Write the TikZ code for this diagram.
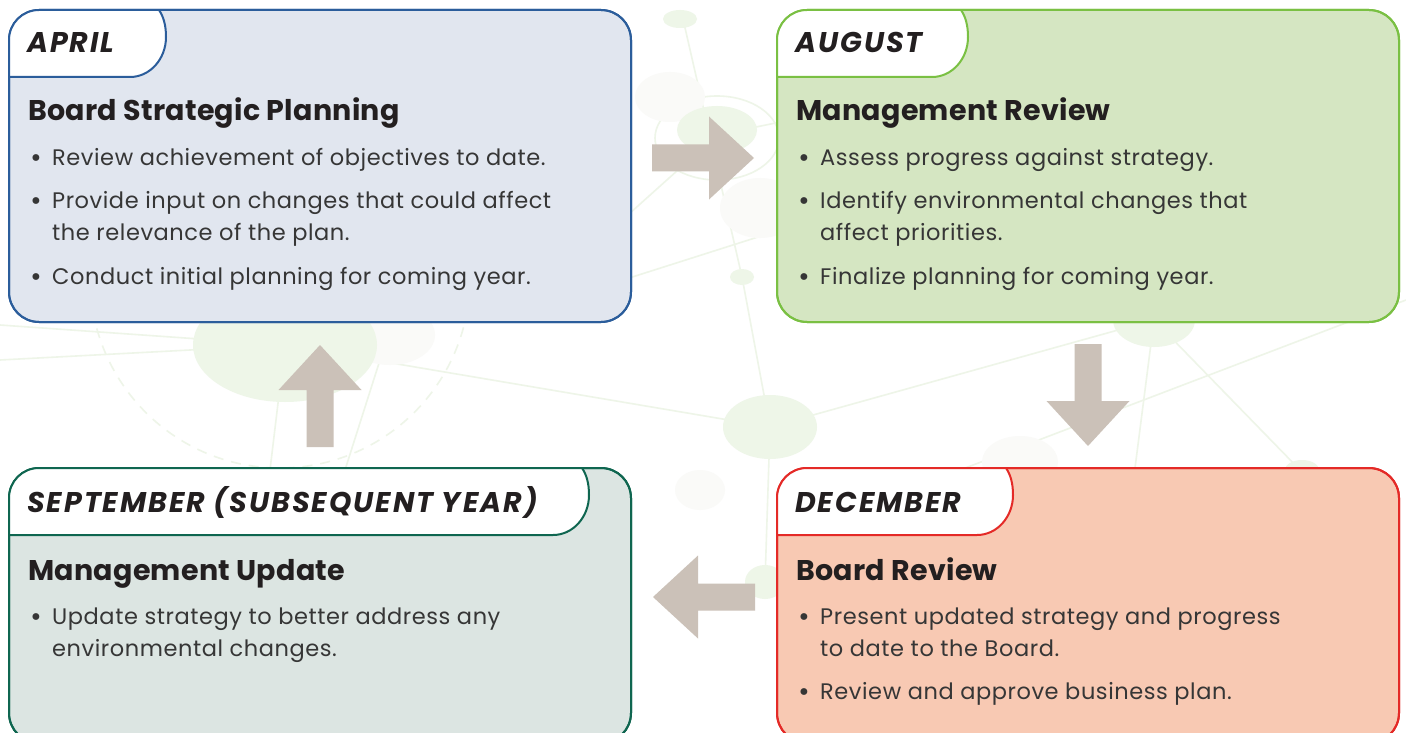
\documentclass[tikz,border=0pt]{standalone}
\usepackage{fontspec}
\setmainfont{Poppins}
\newfontfamily\tabfont{Poppins}[LetterSpace=7]
\newfontfamily\headfont{Poppins}[LetterSpace=1]
\newfontfamily\itemfont{Poppins}[LetterSpace=2.5]
\usetikzlibrary{calc}

\definecolor{aprline}{HTML}{2B5D9B}
\definecolor{aprfill}{HTML}{E1E6EF}
\definecolor{augline}{HTML}{7AC043}
\definecolor{augfill}{HTML}{D5E6C2}
\definecolor{decline}{HTML}{E42A27}
\definecolor{decfill}{HTML}{F8C9B3}
\definecolor{sepline}{HTML}{0F6650}
\definecolor{sepfill}{HTML}{DCE5E2}
\definecolor{arrowc}{HTML}{CBC1B8}
\definecolor{netfill}{HTML}{EEF6E8}
\definecolor{netstroke}{HTML}{EEF5E8}
\definecolor{netgray}{HTML}{FAFAF8}
\definecolor{ink}{HTML}{231F20}
\definecolor{body}{HTML}{363636}

% white tab in the top left corner of a box: box node, tab width, colour
\newcommand{\phasetab}[3]{%
  \begin{scope}
    \clip ([shift={(-5,-5)}]#1.north west) -- ([shift={(#2-7,-5)}]#1.north west)
      -- ([shift={(#2-7,0)}]#1.north west)
      .. controls ([shift={(#2-3,6)}]#1.north west) and ([shift={(#2,14)}]#1.north west) .. ([shift={(#2,27)}]#1.north west)
      .. controls ([shift={(#2,49)}]#1.north west) and ([shift={(#2-16,67)}]#1.north west) .. ([shift={(#2-36,67)}]#1.north west)
      -- ([shift={(-5,67)}]#1.north west) -- cycle;
    \fill[white, rounded corners=30pt] (#1.north west) rectangle (#1.south east);
  \end{scope}
  \draw[#3, line width=2pt] ([shift={(#2-7,0)}]#1.north west)
      .. controls ([shift={(#2-3,6)}]#1.north west) and ([shift={(#2,14)}]#1.north west) .. ([shift={(#2,27)}]#1.north west)
      .. controls ([shift={(#2,49)}]#1.north west) and ([shift={(#2-16,67)}]#1.north west) .. ([shift={(#2-36,67)}]#1.north west)
      -- ([shift={(0,67)}]#1.north west);
  \draw[#3, line width=2pt, rounded corners=30pt] (#1.north west) rectangle (#1.south east);
}

\tikzset{
  phasebox/.style 2 args={draw=#1, fill=#2, line width=2pt, rounded corners=30pt,
    anchor=north west, outer sep=0pt, inner sep=0pt},
  tabtext/.style={font=\tabfont\fontsize{28.5}{28.5}\selectfont\bfseries\itshape, text=ink,
    anchor=base west, inner sep=0pt},
  headtext/.style={font=\headfont\fontsize{28.5}{28.5}\selectfont\bfseries, text=ink,
    anchor=base west, inner sep=0pt},
  itemtext/.style={font=\itemfont\fontsize{22.5}{22.5}\selectfont, text=body,
    anchor=base west, inner sep=0pt},
  netln/.style={draw=netstroke, line width=1.6pt},
  blockarr/.pic={\fill[arrowc] (0,0) -- (-45,41.5) -- (-45,13.5) -- (-102,13.5)
    -- (-102,-13.5) -- (-45,-13.5) -- (-45,-41.5) -- cycle;}
}

\begin{document}
\begin{tikzpicture}[x=1pt,y=-1pt]
\clip (0,0) rectangle (1406,733);
\fill[white] (0,0) rectangle (1406,733);

% faint network in the background
\draw[netln] (683,19) -- (742,277) -- (770,427) -- (765,582);
\draw[netln] (0,325) -- (285,345) -- (770,427) -- (1154,320) -- (1135,468);
\draw[netln] (0,360) -- (285,345) -- (270,470);
\draw[netln] (380,360) -- (345,470);
\draw[netln] (1154,320) -- (1300,470);
\draw[netln] (600,240) -- (717,135) -- (800,118);
\draw[netln] (560,300) -- (780,230);
\draw[netln] (960,470) -- (1406,300);
\draw[netln, dash pattern=on 10pt off 8pt] (280,278) circle[radius=190pt];
\draw[netln] (717,138) ellipse[x radius=62pt, y radius=42pt];
\fill[netgray] (670,97) ellipse[x radius=35pt, y radius=25pt];
\fill[netgray] (760,208) ellipse[x radius=40pt, y radius=30pt];
\fill[netgray] (1020,462) ellipse[x radius=38pt, y radius=26pt];
\fill[netgray] (700,490) ellipse[x radius=25pt, y radius=20pt];
\fill[netgray] (390,335) ellipse[x radius=45pt, y radius=30pt];
\fill[netfill] (680,19) ellipse[x radius=17pt, y radius=9pt];
\fill[netfill] (717,130) ellipse[x radius=40pt, y radius=24pt];
\fill[netfill] (742,277) ellipse[x radius=12pt, y radius=8pt];
\fill[netfill] (770,427) ellipse[x radius=47pt, y radius=32pt];
\fill[netfill] (765,582) ellipse[x radius=20pt, y radius=17pt];
\fill[netfill] (285,345) ellipse[x radius=92pt, y radius=57pt];
\fill[netfill] (1154,320) ellipse[x radius=41pt, y radius=27pt];
\fill[netfill] (1302,470) ellipse[x radius=17pt, y radius=10pt];

% the four boxes
\node[phasebox={aprline}{aprfill}, minimum width=622pt, minimum height=312pt] (apr) at (9,10) {};
\node[phasebox={augline}{augfill}, minimum width=622pt, minimum height=312pt] (aug) at (777,10) {};
\node[phasebox={decline}{decfill}, minimum width=622pt, minimum height=275pt] (dec) at (777,468) {};
\node[phasebox={sepline}{sepfill}, minimum width=622pt, minimum height=275pt] (sep) at (9,468) {};
\phasetab{apr}{157}{aprline}
\phasetab{aug}{191}{augline}
\phasetab{dec}{236}{decline}
\phasetab{sep}{580}{sepline}

% April
\node[tabtext] (apr-tab) at ([shift={(18,43)}]apr.north west) {APRIL};
\node[headtext] (apr-head) at ([shift={(19,111)}]apr.north west) {Board Strategic Planning};
\foreach \yy/\bul/\txt [count=\i] in {155/\textbullet/{Review achievement of objectives to date.},
    198/\textbullet/{Provide input on changes that could affect},
    230//{the relevance of the plan.},
    274/\textbullet/{Conduct initial planning for coming year.}}
  \node[itemtext] (apr-\i) at ([shift={(43,\yy)}]apr.north west) {\llap{\textbf{\bul}\hspace{10pt}}\txt};

% August
\node[tabtext] (aug-tab) at ([shift={(18,43)}]aug.north west) {AUGUST};
\node[headtext] (aug-head) at ([shift={(19,111)}]aug.north west) {Management Review};
\foreach \yy/\bul/\txt [count=\i] in {155/\textbullet/{Assess progress against strategy.},
    198/\textbullet/{Identify environmental changes that},
    230//{affect priorities.},
    274/\textbullet/{Finalize planning for coming year.}}
  \node[itemtext] (aug-\i) at ([shift={(43,\yy)}]aug.north west) {\llap{\textbf{\bul}\hspace{10pt}}\txt};

% December
\node[tabtext] (dec-tab) at ([shift={(18,44)}]dec.north west) {DECEMBER};
\node[headtext] (dec-head) at ([shift={(19,112)}]dec.north west) {Board Review};
\foreach \yy/\bul/\txt [count=\i] in {156/\textbullet/{Present updated strategy and progress},
    188//{to date to the Board.},
    231/\textbullet/{Review and approve business plan.}}
  \node[itemtext] (dec-\i) at ([shift={(43,\yy)}]dec.north west) {\llap{\textbf{\bul}\hspace{10pt}}\txt};

% September
\node[tabtext] (sep-tab) at ([shift={(18,44)}]sep.north west) {SEPTEMBER (SUBSEQUENT YEAR)};
\node[headtext] (sep-head) at ([shift={(19,112)}]sep.north west) {Management Update};
\foreach \yy/\bul/\txt [count=\i] in {156/\textbullet/{Update strategy to better address any},
    188//{environmental changes.}}
  \node[itemtext] (sep-\i) at ([shift={(43,\yy)}]sep.north west) {\llap{\textbf{\bul}\hspace{10pt}}\txt};

% arrows round the cycle
\pic[rotate=0] at (754,158) {blockarr};
\pic[rotate=-90] at (1088,446) {blockarr};
\pic[rotate=180] at (653,597) {blockarr};
\pic[rotate=90] at (320,345) {blockarr};
\end{tikzpicture}
\end{document}
